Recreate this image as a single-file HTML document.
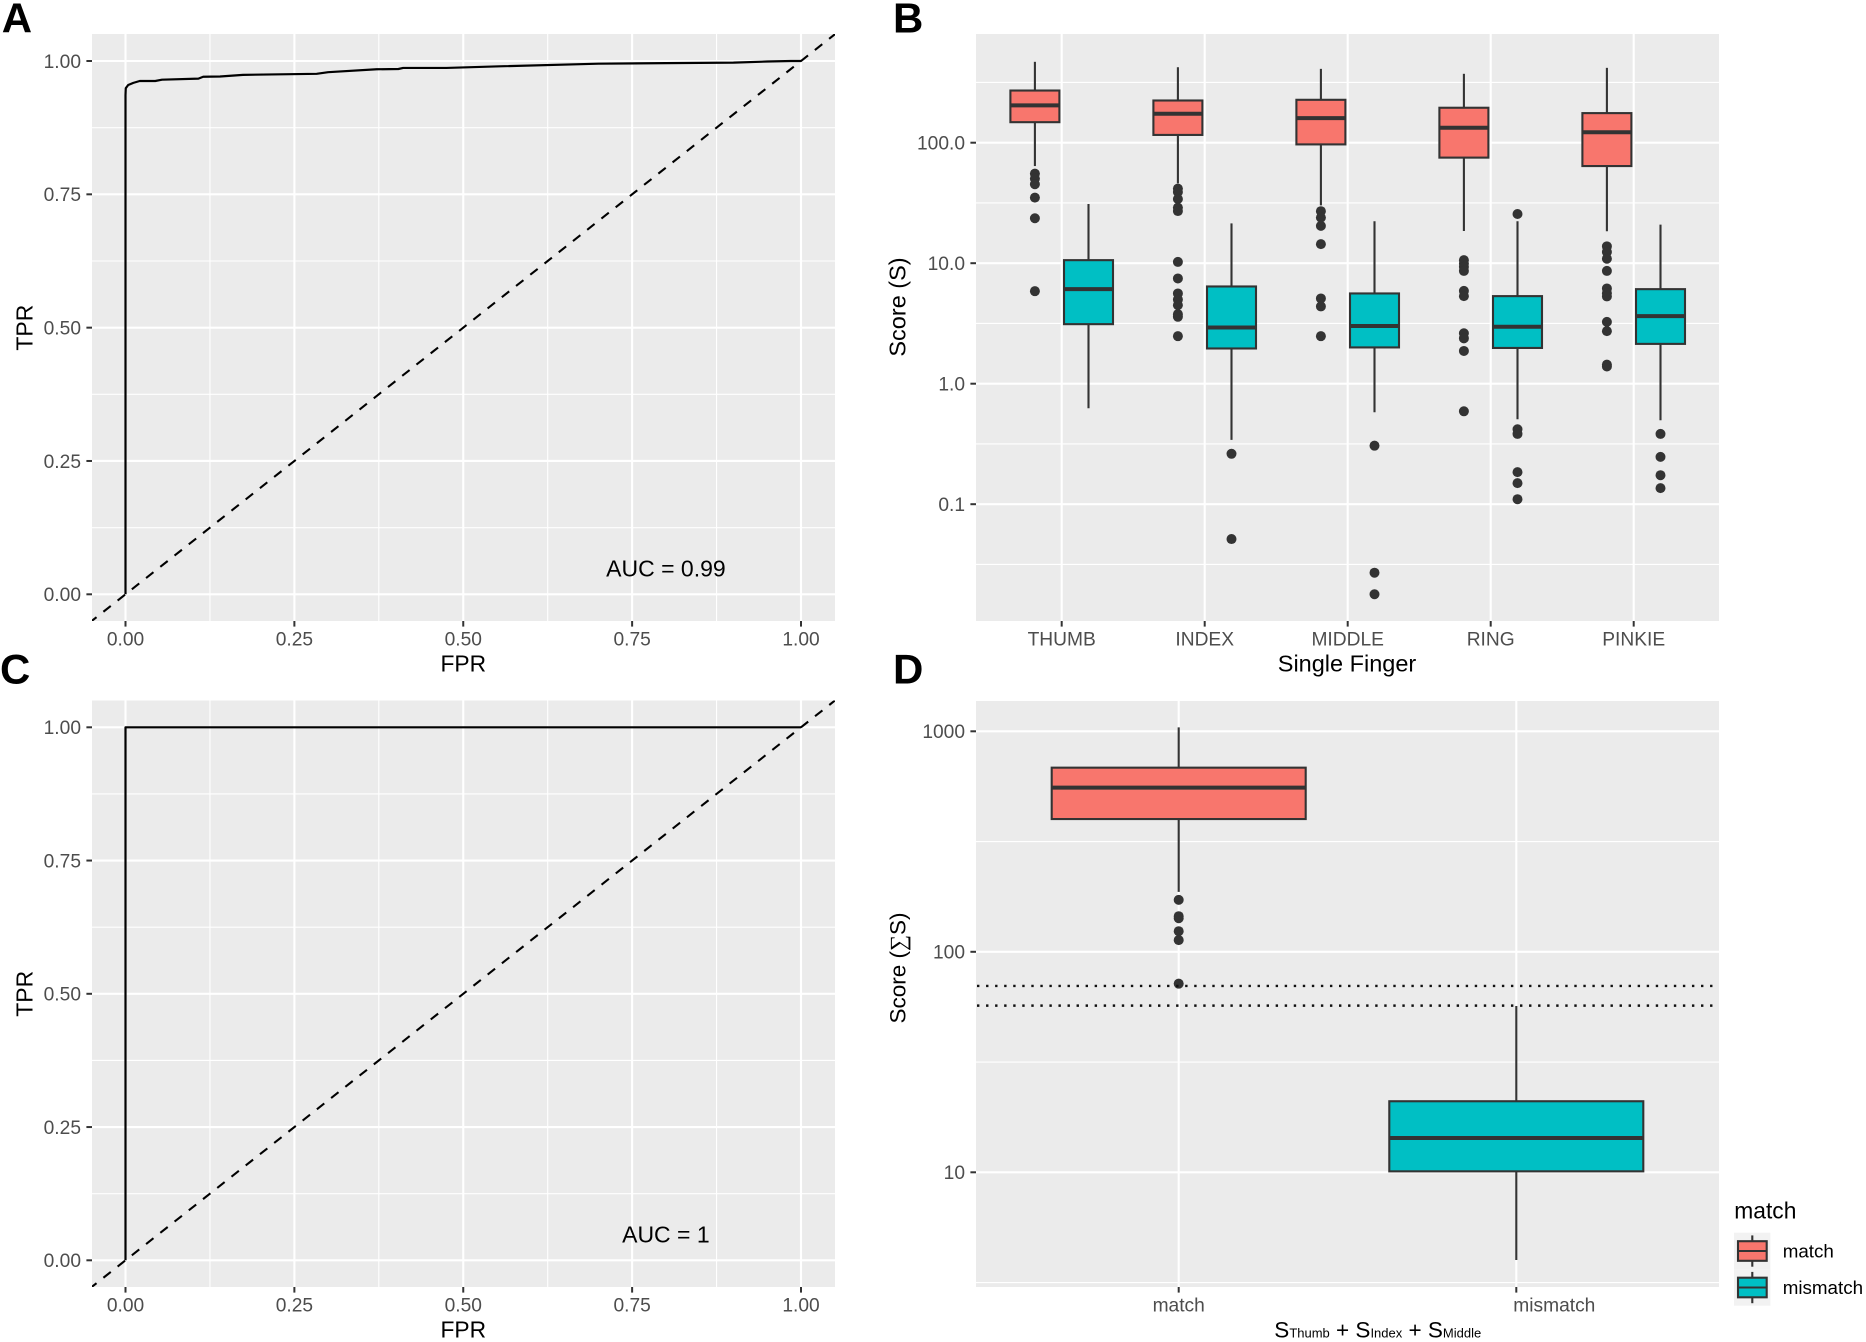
<!DOCTYPE html>
<html lang="en">
<head>
<meta charset="utf-8">
<title>ROC curves and score box plots</title>
<style>
  html, body { margin: 0; padding: 0; background: #ffffff; }
  svg { display: block; font-family: "Liberation Sans", Arial, sans-serif; }
  text { white-space: pre; }
</style>
</head>
<body>
<svg id="figure" xmlns="http://www.w3.org/2000/svg" width="1866" height="1342" viewBox="0 0 1866 1342">
  <rect x="0" y="0" width="1866" height="1342" fill="#ffffff"></rect>
</svg>
<script>
// ---- ROC data ----
const rocTickValues = [0, 0.25, 0.5, 0.75, 1];
const rocTickLabels = ['0.00', '0.25', '0.50', '0.75', '1.00'];
const rocMinorBreaks = [0.125, 0.375, 0.625, 0.875];
const rocAFpr = [0, 0, 0.0004, 0.004, 0.0116, 0.021, 0.044, 0.054, 0.108, 0.115, 0.14, 0.174, 0.283, 0.30, 0.372, 0.404, 0.411, 0.475, 0.554, 0.70, 0.80, 0.90, 0.95, 0.985, 1];
const rocATpr = [0, 0.936, 0.949, 0.955, 0.959, 0.9625, 0.9625, 0.965, 0.967, 0.9705, 0.971, 0.974, 0.976, 0.979, 0.9845, 0.985, 0.987, 0.987, 0.990, 0.995, 0.996, 0.997, 0.999, 1, 1];
const rocCFpr = [0, 0, 1];
const rocCTpr = [0, 1, 1];
const aucLabelA = 'AUC = 0.99';
const aucLabelC = 'AUC = 1';

// ---- Panel B: single finger scores ----
const fingerCategories = ['THUMB', 'INDEX', 'MIDDLE', 'RING', 'PINKIE'];
const scoreTickValues = [100, 10, 1, 0.1];
const scoreTickLabels = ['100.0', '10.0', '1.0', '0.1'];
const scoreMinorBreaks = [316.2, 31.62, 3.162, 0.3162, 0.03162];
const matchHigh = [469, 423, 410, 373, 418];
const matchQ3 = [271, 224, 227, 195, 176];
const matchMedian = [204, 174, 160, 133, 122];
const matchQ1 = [148, 116, 96.8, 75.2, 64];
const matchLow = [64, 46, 30.2, 18.5, 18.4];
const matchOutliers = [
  [55.4, 50.3, 45.2, 35, 23.6, 5.86],
  [41.6, 39, 34.1, 28.9, 27.1, 10.25, 7.47, 5.61, 5.0, 4.49, 3.78, 3.59, 2.48],
  [27, 23.9, 20.4, 14.4, 5.1, 4.38, 2.48],
  [10.6, 9.94, 9.32, 8.63, 5.89, 5.33, 2.62, 2.38, 1.87, 0.59],
  [13.8, 12.4, 10.9, 8.63, 6.17, 5.64, 5.3, 3.26, 2.73, 1.44, 1.39]
];
const mismatchHigh = [31, 21.4, 22.3, 22.3, 20.9];
const mismatchQ3 = [10.6, 6.41, 5.61, 5.33, 6.09];
const mismatchMedian = [6.09, 2.93, 3.01, 2.97, 3.64];
const mismatchQ1 = [3.12, 1.96, 2.0, 1.98, 2.14];
const mismatchLow = [0.625, 0.342, 0.579, 0.507, 0.497];
const mismatchOutliers = [
  [],
  [0.262, 0.0514],
  [0.306, 0.027, 0.0179],
  [25.6, 0.419, 0.383, 0.1845, 0.1496, 0.110],
  [0.383, 0.247, 0.174, 0.136]
];

// ---- Panel D: summed scores ----
const sumCategories = ['match', 'mismatch'];
const sumTickValues = [1000, 100, 10];
const sumTickLabels = ['1000', '100', '10'];
const sumMinorBreaks = [316.2, 31.62, 3.162];
const sumHigh = [1042, 56.8];
const sumQ3 = [684, 21];
const sumMedian = [555, 14.3];
const sumQ1 = [400, 10.1];
const sumLow = [187, 4.0];
const sumOutliers = [[172, 145, 142, 124, 113, 71.7], []];
const sumThresholds = [70, 57];
const legendTitle = 'match';
const legendLabels = ['match', 'mismatch'];

// ---- Helpers ----
const SVGNS = 'http://www.w3.org/2000/svg';
const svgRoot = document.getElementById('figure');
const COLOR_MATCH = '#F8766D';
const COLOR_MISMATCH = '#00BFC4';
const COLOR_DARK = '#333333';
const COLOR_TICK_TEXT = '#4D4D4D';

function mk(tag, attrs, parent) {
  const node = document.createElementNS(SVGNS, tag);
  for (const key in attrs) node.setAttribute(key, attrs[key]);
  parent.appendChild(node);
  return node;
}
function linearScale(d0, d1, r0, r1) {
  return function (v) { return r0 + (v - d0) * (r1 - r0) / (d1 - d0); };
}
function logScale(d0, d1, r0, r1) {
  return function (v) { return r0 + (Math.log10(v) - Math.log10(d0)) * (r1 - r0) / (Math.log10(d1) - Math.log10(d0)); };
}
function addGroup(parent, name) {
  const g = mk('g', {}, parent);
  
  
  return g;
}
function addText(parent, x, y, str, size, fill, anchor, name, extra) {
  const t = mk('text', Object.assign({ x: x, y: y, 'font-size': size, fill: fill, 'text-anchor': anchor }, extra || {}), parent);
  t.textContent = str;
  
  
  return t;
}
function addLine(parent, x1, y1, x2, y2, stroke, width, name, extra) {
  const l = mk('line', Object.assign({ x1: x1, y1: y1, x2: x2, y2: y2, stroke: stroke, 'stroke-width': width }, extra || {}), parent);
  
  
  return l;
}
function drawPanelBackground(parent, box, name) {
  const r = mk('rect', { x: box.left, y: box.top, width: box.right - box.left, height: box.bottom - box.top, fill: '#EBEBEB' }, parent);
  
  
}
function drawYAxis(parent, box, yScale, values, labels, minors) {
  minors.forEach(function (v) {
    addLine(parent, box.left, yScale(v), box.right, yScale(v), '#ffffff', 1.1, 'y-minor-gridline');
  });
  values.forEach(function (v, i) {
    const y = yScale(v);
    addLine(parent, box.left, y, box.right, y, '#ffffff', 2.1, 'y-major-gridline');
    addLine(parent, box.left - 5.6, y, box.left, y, COLOR_DARK, 2, 'y-tick');
    addText(parent, box.left - 11, y + 6.9, labels[i], 19.2, COLOR_TICK_TEXT, 'end', 'y-tick-label');
  });
}
function drawXGrid(parent, box, xScale, values, minors) {
  minors.forEach(function (v) {
    addLine(parent, xScale(v), box.top, xScale(v), box.bottom, '#ffffff', 1.1, 'x-minor-gridline');
  });
  values.forEach(function (v) {
    addLine(parent, xScale(v), box.top, xScale(v), box.bottom, '#ffffff', 2.1, 'x-major-gridline');
  });
}
function drawXTicks(parent, box, positions, labels, labelPositions) {
  positions.forEach(function (x, i) {
    addLine(parent, x, box.bottom, x, box.bottom + 5.6, COLOR_DARK, 2, 'x-tick');
    addText(parent, labelPositions[i], box.bottom + 24.6, labels[i], 19.2, COLOR_TICK_TEXT, 'middle', 'x-tick-label');
  });
}
function drawBox(parent, cx, halfWidth, yScale, high, q3, median, q1, low, outliers, fill, name) {
  const g = addGroup(parent, name);
  outliers.forEach(function (v) {
    const c = mk('circle', { cx: cx, cy: yScale(v), r: 5, fill: COLOR_DARK }, g);
    
    
  });
  addLine(g, cx, yScale(high), cx, yScale(q3), COLOR_DARK, 2.1, 'upper-whisker');
  addLine(g, cx, yScale(q1), cx, yScale(low), COLOR_DARK, 2.1, 'lower-whisker');
  const r = mk('rect', { x: cx - halfWidth, y: yScale(q3), width: 2 * halfWidth, height: yScale(q1) - yScale(q3), fill: fill, stroke: COLOR_DARK, 'stroke-width': 2.1 }, g);
  
  
  addLine(g, cx - halfWidth, yScale(median), cx + halfWidth, yScale(median), COLOR_DARK, 4, 'median-line');
}

// ---- ROC panels ----
function drawRoc(box, xOf, yOf, fpr, tpr, auc, titleBaseline, id, panelName) {
  const g = addGroup(svgRoot, panelName);
  drawPanelBackground(g, box, 'panel-background');
  drawXGrid(g, box, xOf, rocTickValues, rocMinorBreaks);
  drawYAxis(g, box, yOf, rocTickValues, rocTickLabels, rocMinorBreaks);
  drawXTicks(g, box, rocTickValues.map(xOf), rocTickLabels, rocTickValues.map(xOf));

  const clip = mk('clipPath', { id: id }, g);
  mk('rect', { x: box.left, y: box.top, width: box.right - box.left, height: box.bottom - box.top }, clip);

  let d = '';
  fpr.forEach(function (f, i) {
    d += (i === 0 ? 'M' : 'L') + xOf(f).toFixed(2) + ' ' + yOf(tpr[i]).toFixed(2);
  });
  const curve = mk('path', { d: d, fill: 'none', stroke: '#000000', 'stroke-width': 2.2, 'stroke-linejoin': 'round' }, g);
  
  

  const diagStart = -0.0538;
  const diagEnd = 1.2;
  addLine(g, xOf(diagStart), yOf(diagStart), xOf(diagEnd), yOf(diagEnd), '#000000', 2.1, 'chance-diagonal', {
    'stroke-dasharray': '9.4 8.73',
    'clip-path': 'url(#' + id + ')'
  });

  addText(g, xOf(0.8), yOf(0.05) + 9, auc, 23, '#000000', 'middle', 'auc-annotation');
  addText(g, xOf(0.5), titleBaseline, 'FPR', 22.8, '#000000', 'middle', 'x-axis-title');
  const cy = (yOf(0) + yOf(1)) / 2;
  addText(g, 0, 0, 'TPR', 23, '#000000', 'middle', 'y-axis-title', { transform: 'translate(32.6 ' + cy + ') rotate(-90)' });
}

const boxA = { left: 92, right: 835, top: 34, bottom: 621 };
const xA = linearScale(0, 1, 125.5, 801);
const yA = linearScale(0, 1, 594.3, 61);
drawRoc(boxA, xA, yA, rocAFpr, rocATpr, aucLabelA, 671.7, 'clip-a', 'panel-a-roc');

const boxC = { left: 92, right: 835, top: 700.5, bottom: 1287 };
const yC = linearScale(0, 1, 1260.3, 727.3);
drawRoc(boxC, xA, yC, rocCFpr, rocCTpr, aucLabelC, 1337.3, 'clip-c', 'panel-c-roc');

// ---- Panel B ----
(function () {
  const box = { left: 976, right: 1719, top: 34, bottom: 621 };
  const yB = logScale(1, 100, 383.7, 142.7);
  const xB = function (i) { return 1061.7 + 143 * i; };
  const dodge = 26.8;
  const halfWidth = 24.5;
  const g = addGroup(svgRoot, 'panel-b-single-finger-boxplots');
  drawPanelBackground(g, box, 'panel-background');
  const positions = fingerCategories.map(function (c, i) { return xB(i); });
  drawXGrid(g, box, function (x) { return x; }, positions, []);
  drawYAxis(g, box, yB, scoreTickValues, scoreTickLabels, scoreMinorBreaks);
  fingerCategories.forEach(function (cat, i) {
    drawBox(g, xB(i) - dodge, halfWidth, yB, matchHigh[i], matchQ3[i], matchMedian[i], matchQ1[i], matchLow[i], matchOutliers[i], COLOR_MATCH, 'box-match-' + cat.toLowerCase());
    drawBox(g, xB(i) + dodge, halfWidth, yB, mismatchHigh[i], mismatchQ3[i], mismatchMedian[i], mismatchQ1[i], mismatchLow[i], mismatchOutliers[i], COLOR_MISMATCH, 'box-mismatch-' + cat.toLowerCase());
  });
  drawXTicks(g, box, positions, fingerCategories, positions);
  addText(g, 1347, 671.7, 'Single Finger', 23.5, '#000000', 'middle', 'x-axis-title');
  addText(g, 0, 0, 'Score (S)', 23.5, '#000000', 'middle', 'y-axis-title', { transform: 'translate(905.5 307) rotate(-90)' });
})();

// ---- Panel D ----
(function () {
  const box = { left: 976, right: 1719, top: 701, bottom: 1287 };
  const yD = logScale(10, 1000, 1172.3, 731.3);
  const xD = function (i) { return 1178.7 + 337.6 * i; };
  const halfWidth = 127;
  const g = addGroup(svgRoot, 'panel-d-summed-score-boxplots');
  drawPanelBackground(g, box, 'panel-background');
  const positions = sumCategories.map(function (c, i) { return xD(i); });
  drawXGrid(g, box, function (x) { return x; }, positions, []);
  drawYAxis(g, box, yD, sumTickValues, sumTickLabels, sumMinorBreaks);
  drawBox(g, xD(0), halfWidth, yD, sumHigh[0], sumQ3[0], sumMedian[0], sumQ1[0], sumLow[0], sumOutliers[0], COLOR_MATCH, 'box-match');
  drawBox(g, xD(1), halfWidth, yD, sumHigh[1], sumQ3[1], sumMedian[1], sumQ1[1], sumLow[1], sumOutliers[1], COLOR_MISMATCH, 'box-mismatch');
  sumThresholds.forEach(function (v) {
    addLine(g, box.left + 1, yD(v), box.right - 5, yD(v), '#111111', 2.4, 'threshold-dotted-line', { 'stroke-dasharray': '2.4 6.65' });
  });
  drawXTicks(g, box, positions, sumCategories, [xD(0), xD(1) + 38]);

  const title = addText(g, 1274.3, 1337.3, '', 22.5, '#000000', 'start', 'x-axis-title');
  const parts = [['S', 22.5], ['Thumb', 13], [' + S', 22.5], ['Index', 13], [' + S', 22.5], ['Middle', 13]];
  parts.forEach(function (p) {
    const s = mk('tspan', { 'font-size': p[1] }, title);
    s.textContent = p[0];
  });

  const yTitle = addText(g, 0, 0, 'Score (', 22.5, '#000000', 'middle', 'y-axis-title', { transform: 'translate(905.5 968) rotate(-90)' });
  const sig = mk('tspan', { 'font-family': '"Liberation Serif", "DejaVu Serif", serif' }, yTitle);
  sig.textContent = '\u2211';
  const rest = mk('tspan', {}, yTitle);
  rest.textContent = 'S)';
})();

// ---- Legend ----
(function () {
  const g = addGroup(svgRoot, 'legend');
  addText(g, 1734.3, 1218.3, legendTitle, 22.8, '#000000', 'start', 'legend-title');
  const keyFills = [COLOR_MATCH, COLOR_MISMATCH];
  legendLabels.forEach(function (label, i) {
    const top = 1232.7 + 36.5 * i;
    const entry = addGroup(g, 'legend-entry-' + label);
    const bg = mk('rect', { x: 1734, y: top, width: 36.4, height: 36.5, fill: '#F2F2F2' }, entry);
    
    
    const cx = 1752.3;
    const mid = top + 18.3;
    addLine(entry, cx, top + 2.7, cx, top + 34, COLOR_DARK, 2.1, 'legend-key-whisker');
    const r = mk('rect', { x: 1738, y: mid - 9.8, width: 28.7, height: 19.6, fill: keyFills[i], stroke: COLOR_DARK, 'stroke-width': 2.1 }, entry);
    
    
    addLine(entry, 1738, mid, 1766.7, mid, COLOR_DARK, 2.1, 'legend-key-median');
    addText(entry, 1782.7, top + 25, label, 18.8, '#000000', 'start', 'legend-label');
  });
})();

// ---- Panel letters ----
addText(svgRoot, 1.7, 32.6, 'A', 42, '#000000', 'start', 'panel-label-a', { 'font-weight': 'bold' });
addText(svgRoot, 893, 32.6, 'B', 42, '#000000', 'start', 'panel-label-b', { 'font-weight': 'bold' });
addText(svgRoot, 0, 683.6, 'C', 42, '#000000', 'start', 'panel-label-c', { 'font-weight': 'bold' });
addText(svgRoot, 893, 683.4, 'D', 42, '#000000', 'start', 'panel-label-d', { 'font-weight': 'bold' });
</script>
</body>
</html>
